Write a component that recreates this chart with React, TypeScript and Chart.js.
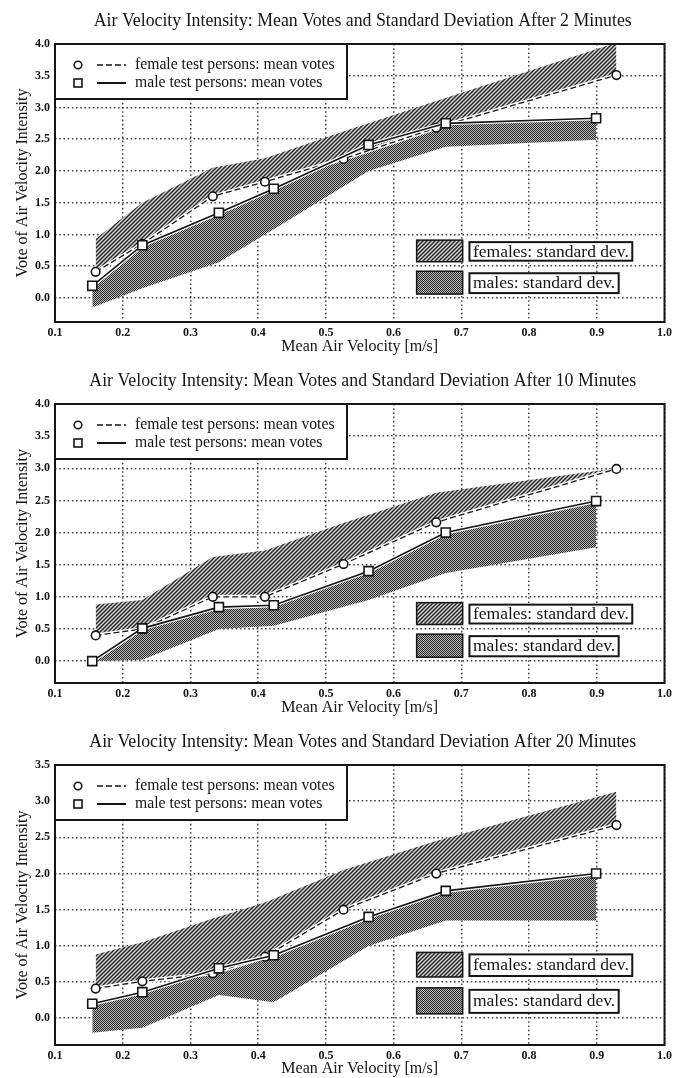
import React, { useEffect, useRef } from 'react';
import { Chart, registerables } from 'chart.js';

Chart.register(...registerables);

// ---------- data ----------
const FEMALE_X = [0.16, 0.229, 0.333, 0.41, 0.526, 0.663, 0.929];
const MALE_X = [0.155, 0.229, 0.342, 0.423, 0.563, 0.677, 0.899];
const X_TICKS = [0.1, 0.2, 0.3, 0.4, 0.5, 0.6, 0.7, 0.8, 0.9, 1.0];
const Y_TICKS_40 = [0, 0.5, 1.0, 1.5, 2.0, 2.5, 3.0, 3.5, 4.0];
const Y_TICKS_35 = [0, 0.5, 1.0, 1.5, 2.0, 2.5, 3.0, 3.5];

// After 2 minutes
const FEMALE_MEAN_2 = [0.41, 0.85, 1.6, 1.83, 2.19, 2.68, 3.51];
const FEMALE_UPPER_2 = [0.93, 1.5, 2.05, 2.2, 2.62, 3.1, 4.02];
const MALE_MEAN_2 = [0.19, 0.83, 1.34, 1.72, 2.41, 2.75, 2.83];
const MALE_LOWER_2 = [-0.15, 0.15, 0.56, 1.08, 2.0, 2.38, 2.49];

// After 10 minutes
const FEMALE_MEAN_10 = [0.4, 0.5, 1.0, 1.0, 1.51, 2.16, 2.99];
const FEMALE_UPPER_10 = [0.88, 0.95, 1.62, 1.72, 2.15, 2.62, 3.0];
const MALE_MEAN_10 = [0.0, 0.51, 0.84, 0.87, 1.4, 2.0, 2.49];
const MALE_LOWER_10 = [0.0, 0.02, 0.5, 0.55, 0.95, 1.37, 1.77];

// After 20 minutes
const FEMALE_MEAN_20 = [0.41, 0.51, 0.62, 0.85, 1.5, 2.0, 2.67];
const FEMALE_UPPER_20 = [0.88, 1.05, 1.38, 1.6, 2.05, 2.45, 3.13];
const MALE_MEAN_20 = [0.2, 0.36, 0.69, 0.87, 1.4, 1.76, 2.0];
const MALE_LOWER_20 = [-0.2, -0.13, 0.32, 0.22, 1.0, 1.35, 1.35];

const TITLES = [
  'Air Velocity Intensity: Mean Votes and Standard Deviation After 2 Minutes',
  'Air Velocity Intensity: Mean Votes and Standard Deviation After 10 Minutes',
  'Air Velocity Intensity: Mean Votes and Standard Deviation After 20 Minutes',
];
const X_TITLE = 'Mean Air Velocity [m/s]';
const Y_TITLE = 'Vote of Air Velocity Intensity';
const LEGEND_MEAN = ['female test persons: mean votes', 'male test persons: mean votes'];
const LEGEND_SD = ['females: standard dev.', 'males: standard dev.'];

// ---------- styling ----------
const FONT = "'Liberation Serif', 'Times New Roman', serif";
const INK = '#151515';

type Spec = {
  title: string;
  fMean: number[];
  fUpper: number[];
  mMean: number[];
  mLower: number[];
  yMin: number;
  yMax: number;
  yTicks: number[];
  top: number;
  height: number;
  padTop: number;
  padBottom: number;
  xH: number;
  xTitlePad: number;
};

const SPECS: Spec[] = [
  { title: TITLES[0], fMean: FEMALE_MEAN_2, fUpper: FEMALE_UPPER_2, mMean: MALE_MEAN_2, mLower: MALE_LOWER_2,
    yMin: -0.38, yMax: 4.0, yTicks: Y_TICKS_40, top: 0, height: 360, padTop: 44, padBottom: 2, xH: 36, xTitlePad: 2 },
  { title: TITLES[1], fMean: FEMALE_MEAN_10, fUpper: FEMALE_UPPER_10, mMean: MALE_MEAN_10, mLower: MALE_LOWER_10,
    yMin: -0.34, yMax: 4.0, yTicks: Y_TICKS_40, top: 360, height: 360, padTop: 44, padBottom: 1, xH: 36, xTitlePad: 2 },
  { title: TITLES[2], fMean: FEMALE_MEAN_20, fUpper: FEMALE_UPPER_20, mMean: MALE_MEAN_20, mLower: MALE_LOWER_20,
    yMin: -0.37, yMax: 3.5, yTicks: Y_TICKS_35, top: 720, height: 358, padTop: 45, padBottom: 0, xH: 33, xTitlePad: 0 },
];

function makeHatch(): CanvasPattern | string {
  const c = document.createElement('canvas');
  c.width = 4; c.height = 4;
  const g = c.getContext('2d');
  if (!g) return '#999';
  g.fillStyle = '#d6d6d6';
  g.fillRect(0, 0, 4, 4);
  g.strokeStyle = '#222';
  g.lineWidth = 1.4;
  g.beginPath();
  g.moveTo(0, 4); g.lineTo(4, 0);
  g.moveTo(-2, 2); g.lineTo(2, -2);
  g.moveTo(2, 6); g.lineTo(6, 2);
  g.stroke();
  return g.createPattern(c, 'repeat') || '#999';
}

function makeCross(): CanvasPattern | string {
  const c = document.createElement('canvas');
  c.width = 2; c.height = 2;
  const g = c.getContext('2d');
  if (!g) return '#555';
  g.fillStyle = '#bcbcbc';
  g.fillRect(0, 0, 2, 2);
  g.fillStyle = '#262626';
  g.fillRect(0, 0, 1, 1);
  g.fillRect(1, 1, 1, 1);
  return g.createPattern(c, 'repeat') || '#555';
}

// white halo under the two mean-vote lines, so they stand out of the patterns
const haloPlugin = {
  id: 'halo',
  beforeDatasetDraw(chart: any, args: any) {
    if (args.index > 1) return;
    const meta = args.meta;
    const pts = meta.data;
    if (!pts || pts.length < 2) return;
    const { ctx, chartArea: a } = chart;
    ctx.save();
    ctx.beginPath();
    ctx.rect(a.left, a.top, a.right - a.left, a.bottom - a.top);
    ctx.clip();
    ctx.strokeStyle = '#fff';
    ctx.lineWidth = 4;
    ctx.lineJoin = 'round';
    ctx.beginPath();
    pts.forEach((p: any, i: number) => (i ? ctx.lineTo(p.x, p.y) : ctx.moveTo(p.x, p.y)));
    ctx.stroke();
    ctx.restore();
  },
};

function overlayPlugin(s: Spec, hatch: any, cross: any) {
  return {
    id: 'overlay',
    afterDraw(chart: any) {
      const { ctx, chartArea: a, scales } = chart;
      const xs = scales.x;
      const ys = scales.y;
      ctx.save();
      // plot frame
      ctx.setLineDash([]);
      ctx.lineWidth = 2;
      ctx.strokeStyle = INK;
      ctx.strokeRect(a.left, a.top, a.right - a.left, a.bottom - a.top);

      // title
      ctx.fillStyle = INK;
      ctx.font = `17.8px ${FONT}`;
      ctx.textAlign = 'center';
      ctx.textBaseline = 'middle';
      ctx.fillText(s.title, (a.left + a.right) / 2 + 3, a.top - 23);

      // mean-votes legend (top-left)
      const bx = a.left, by = a.top, bw = 292, bh = 55;
      ctx.fillStyle = '#fff';
      ctx.fillRect(bx, by, bw, bh);
      ctx.lineWidth = 2;
      ctx.strokeRect(bx, by, bw, bh);
      const r1 = by + 21, r2 = by + 39;
      ctx.lineWidth = 1.6;
      ctx.beginPath();
      ctx.arc(bx + 23, r1, 3.8, 0, Math.PI * 2);
      ctx.fillStyle = '#fff';
      ctx.fill();
      ctx.stroke();
      ctx.fillRect(bx + 19, r2 - 4, 8, 8);
      ctx.strokeRect(bx + 19, r2 - 4, 8, 8);
      ctx.lineWidth = 1.4;
      ctx.setLineDash([6, 3]);
      ctx.beginPath();
      ctx.moveTo(bx + 42, r1); ctx.lineTo(bx + 71, r1);
      ctx.stroke();
      ctx.setLineDash([]);
      ctx.lineWidth = 2;
      ctx.beginPath();
      ctx.moveTo(bx + 42, r2); ctx.lineTo(bx + 71, r2);
      ctx.stroke();
      ctx.fillStyle = INK;
      ctx.font = `15.7px ${FONT}`;
      ctx.textAlign = 'left';
      ctx.fillText(LEGEND_MEAN[0], bx + 80, r1);
      ctx.fillText(LEGEND_MEAN[1], bx + 80, r2);

      // standard-deviation legend (bottom-right)
      const sx0 = xs.getPixelForValue(0.634);
      const sx1 = xs.getPixelForValue(0.702);
      const tx0 = xs.getPixelForValue(0.712);
      const rows: [number, number, any, string][] = [
        [0.91, 0.57, hatch, LEGEND_SD[0]],
        [0.42, 0.06, cross, LEGEND_SD[1]],
      ];
      ctx.font = `17.5px ${FONT}`;
      for (const [hi, lo, pat, label] of rows) {
        const y0 = ys.getPixelForValue(hi);
        const y1 = ys.getPixelForValue(lo);
        ctx.fillStyle = pat;
        ctx.fillRect(sx0, y0, sx1 - sx0, y1 - y0);
        ctx.lineWidth = 1.5;
        ctx.strokeStyle = INK;
        ctx.strokeRect(sx0, y0, sx1 - sx0, y1 - y0);
        const w = ctx.measureText(label).width;
        ctx.fillStyle = '#fff';
        ctx.fillRect(tx0, y0 + 2, w + 7, y1 - y0 - 3);
        ctx.lineWidth = 2;
        ctx.strokeRect(tx0, y0 + 2, w + 7, y1 - y0 - 3);
        ctx.fillStyle = INK;
        ctx.fillText(label, tx0 + 3.5, (y0 + y1) / 2 + 1);
      }
      ctx.restore();
    },
  };
}

function buildConfig(s: Spec): any {
  const hatch = makeHatch();
  const cross = makeCross();
  const gridCommon = { color: '#444', lineWidth: 1.5, drawTicks: false };
  const borderCommon = { display: false, dash: [1.6, 2.6] };
  return {
    type: 'line',
    data: {
      datasets: [
        {
          label: LEGEND_MEAN[0],
          data: FEMALE_X.map((x, i) => ({ x, y: s.fMean[i] })),
          borderColor: INK,
          borderWidth: 1.3,
          borderDash: [6, 3],
          pointStyle: 'circle',
          pointRadius: 4.3,
          pointBackgroundColor: '#fff',
          pointBorderColor: INK,
          pointBorderWidth: 1.6,
          fill: false,
          tension: 0,
          order: 2,
        },
        {
          label: LEGEND_MEAN[1],
          data: MALE_X.map((x, i) => ({ x, y: s.mMean[i] })),
          borderColor: INK,
          borderWidth: 1.6,
          pointStyle: 'rect',
          pointRadius: 6.4,
          pointBackgroundColor: '#fff',
          pointBorderColor: INK,
          pointBorderWidth: 1.6,
          fill: false,
          tension: 0,
          order: 1,
        },
        {
          label: LEGEND_SD[0],
          data: FEMALE_X.map((x, i) => ({ x, y: s.fUpper[i] })),
          borderColor: 'rgba(0,0,0,0)',
          borderWidth: 0,
          pointRadius: 0,
          backgroundColor: hatch,
          fill: 0,
          tension: 0,
          order: 5,
        },
        {
          label: LEGEND_SD[1],
          data: MALE_X.map((x, i) => ({ x, y: s.mLower[i] })),
          borderColor: 'rgba(0,0,0,0)',
          borderWidth: 0,
          pointRadius: 0,
          backgroundColor: cross,
          fill: 1,
          tension: 0,
          order: 4,
        },
      ],
    },
    options: {
      responsive: false,
      animation: false,
      devicePixelRatio: 1,
      events: [],
      layout: { padding: { top: s.padTop, left: 0, right: 11, bottom: s.padBottom } },
      plugins: {
        legend: { display: false },
        tooltip: { enabled: false },
        title: { display: false },
      },
      scales: {
        x: {
          type: 'linear',
          min: 0.1,
          max: 1.0,
          afterBuildTicks: (sc: any) => { sc.ticks = X_TICKS.map((v) => ({ value: v })); },
          afterFit: (sc: any) => { sc.height = s.xH; },
          ticks: {
            callback: (v: any) => Number(v).toFixed(1),
            font: { family: FONT, size: 12, weight: 'bold' },
            color: INK,
            padding: 4,
            maxRotation: 0,
            autoSkip: false,
          },
          grid: gridCommon,
          border: borderCommon,
          title: {
            display: true,
            text: X_TITLE,
            color: INK,
            font: { family: FONT, size: 16 },
            padding: { top: 0, bottom: s.xTitlePad },
          },
        },
        y: {
          type: 'linear',
          min: s.yMin,
          max: s.yMax,
          afterBuildTicks: (sc: any) => { sc.ticks = s.yTicks.map((v) => ({ value: v })); },
          afterFit: (sc: any) => { sc.width = 55; },
          ticks: {
            callback: (v: any) => Number(v).toFixed(1),
            font: { family: FONT, size: 12, weight: 'bold' },
            color: INK,
            padding: 5,
          },
          grid: gridCommon,
          border: borderCommon,
          title: {
            display: true,
            text: Y_TITLE,
            color: INK,
            font: { family: FONT, size: 16 },
            padding: { top: 13, bottom: 0 },
          },
        },
      },
    },
    plugins: [haloPlugin, overlayPlugin(s, hatch, cross)],
  };
}

function Panel({ spec }: { spec: Spec }) {
  const ref = useRef<HTMLCanvasElement>(null);
  useEffect(() => {
    if (!ref.current) return;
    const chart = new Chart(ref.current, buildConfig(spec));
    return () => chart.destroy();
  }, [spec]);
  return (
    <canvas
      ref={ref}
      width={676}
      height={spec.height}
      style={{ position: 'absolute', left: 0, top: spec.top, width: 676, height: spec.height }}
    />
  );
}

export default function App() {
  return (
    <div style={{ position: 'absolute', left: 0, top: 0, width: 676, height: 1078, background: '#fff', overflow: 'hidden' }}>
      {SPECS.map((s, i) => (
        <Panel key={i} spec={s} />
      ))}
    </div>
  );
}
